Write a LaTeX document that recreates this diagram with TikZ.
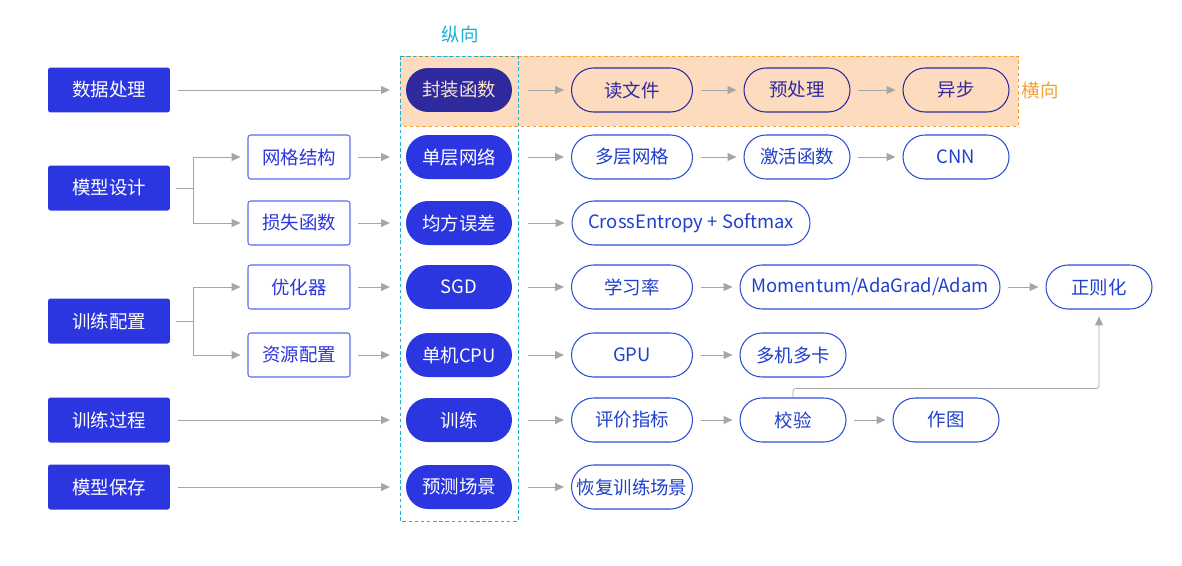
\documentclass[tikz,border=0pt]{standalone}
\usepackage{fontspec}
\setmainfont{Noto Sans CJK SC}
\usetikzlibrary{arrows.meta}
\definecolor{mainblue}{HTML}{2B35E0}
\definecolor{darkpill}{HTML}{2E2A9E}
\definecolor{pilltext}{HTML}{F7E3CC}
\definecolor{lineblue}{HTML}{2B4FD6}
\definecolor{textblue}{HTML}{1F3FCC}
\definecolor{subblue}{HTML}{5C6BF0}
\definecolor{linkgray}{HTML}{A6A6A6}
\definecolor{peach}{HTML}{FDDBBE}
\definecolor{orangeline}{HTML}{F5A033}
\definecolor{cyanline}{HTML}{1BB0D8}
\tikzset{
  every node/.style={font=\fontsize{10.5}{12}\selectfont, inner sep=0pt},
  stage/.style={fill=mainblue, text=white, rounded corners=1.5pt, minimum width=2.44cm, minimum height=0.9cm},
  part/.style={draw=subblue, line width=0.6pt, fill=white, text=mainblue, rounded corners=1.5pt, minimum width=2.04cm, minimum height=0.88cm},
  basepill/.style={fill=mainblue, text=white, rounded corners=12.5pt, minimum width=2.12cm, minimum height=0.88cm},
  pill/.style={draw=lineblue, line width=0.6pt, fill=white, text=textblue, rounded corners=12.5pt, minimum width=2.12cm, minimum height=0.88cm},
  link/.style={draw=linkgray, -{Triangle[length=5pt,width=4.5pt]}, shorten <=4.5pt, shorten >=4pt},
}
\begin{document}
\begin{tikzpicture}[x=0.02cm, y=-0.02cm]
  \useasboundingbox (0,0) rectangle (1182,565);
  % Areas
  \fill[peach] (400,56) rectangle (1018,126);
  \draw[orangeline, dashed, dash pattern=on 2pt off 1.5pt] (400,56) rectangle (1018,126);
  \draw[cyanline, dash pattern=on 2pt off 1.5pt] (400,56) rectangle (518,521);
  \node[text=cyanline] (vert) at (460,34) {纵向};
  \node[text=orangeline] (horiz) at (1040,90) {横向};
  % Stages
  \node[stage] (data)  at (109,90)  {数据处理};
  \node[stage] (model) at (109,188) {模型设计};
  \node[stage] (conf)  at (109,321) {训练配置};
  \node[stage] (proc)  at (109,420) {训练过程};
  \node[stage] (save)  at (109,487) {模型保存};
  % Parts
  \node[part] (net)  at (299,157) {网格结构};
  \node[part] (loss) at (299,223) {损失函数};
  \node[part] (opt)  at (299,287) {优化器};
  \node[part] (res)  at (299,355) {资源配置};
  % Basic versions
  \node[basepill, fill=darkpill, text=pilltext] (wrap) at (459,90) {封装函数};
  \node[basepill] (single)  at (459,157) {单层网络};
  \node[basepill] (mse)     at (459,223) {均方误差};
  \node[basepill] (sgd)     at (459,287) {SGD};
  \node[basepill] (cpu)     at (459,355) {单机CPU};
  \node[basepill] (fit)     at (459,420) {训练};
  \node[basepill] (predict) at (459,487) {预测场景};
  % Extensions
  \node[pill, draw=darkpill, text=darkpill, fill=none, minimum width=2.42cm] (read) at (632,90) {读文件};
  \node[pill, draw=darkpill, text=darkpill, fill=none] (prep) at (797,90) {预处理};
  \node[pill, draw=darkpill, text=darkpill, fill=none] (async) at (956,90) {异步};
  \node[pill, minimum width=2.42cm] (multi) at (632,157) {多层网格};
  \node[pill] (act) at (797,157) {激活函数};
  \node[pill] (cnn) at (956,157) {CNN};
  \node[pill, minimum width=4.76cm] (ce) at (691,223) {CrossEntropy + Softmax};
  \node[pill, minimum width=2.42cm] (lr) at (632,287) {学习率};
  \node[pill, minimum width=5.2cm] (mom) at (870,287) {Momentum/AdaGrad/Adam};
  \node[pill] (reg) at (1099,287) {正则化};
  \node[pill, minimum width=2.42cm] (gpu) at (632,355) {GPU};
  \node[pill] (cards) at (793,355) {多机多卡};
  \node[pill, minimum width=2.42cm] (eval) at (632,420) {评价指标};
  \node[pill] (check) at (793,420) {校验};
  \node[pill] (plot) at (946,420) {作图};
  \node[pill, minimum width=2.42cm] (resume) at (632,487) {恢复训练场景};
  % Stage links
  \draw[link, shorten >=9pt] (data) -- (wrap);
  \draw[link, shorten >=9pt] (proc) -- (fit);
  \draw[link, shorten >=9pt] (save) -- (predict);
  \coordinate (mfork) at (193,188);
  \coordinate (cfork) at (193,321);
  \draw[linkgray, shorten <=3pt] (model) -- (mfork);
  \draw[link, shorten <=0pt] (mfork) |- (net);
  \draw[link, shorten <=0pt] (mfork) |- (loss);
  \draw[linkgray, shorten <=3pt] (conf) -- (cfork);
  \draw[link, shorten <=0pt] (cfork) |- (opt);
  \draw[link, shorten <=0pt] (cfork) |- (res);
  \draw[link, shorten >=9pt] (net) -- (single);
  \draw[link, shorten >=9pt] (loss) -- (mse);
  \draw[link, shorten >=9pt] (opt) -- (sgd);
  \draw[link, shorten >=9pt] (res) -- (cpu);
  % Row links
  \draw[link, shorten <=9pt] (wrap) -- (read);
  \draw[link] (read) -- (prep);
  \draw[link] (prep) -- (async);
  \draw[link, shorten <=9pt] (single) -- (multi);
  \draw[link] (multi) -- (act);
  \draw[link] (act) -- (cnn);
  \draw[link, shorten <=9pt] (mse) -- (ce);
  \draw[link, shorten <=9pt] (sgd) -- (lr);
  \draw[link] (lr) -- (mom);
  \draw[link] (mom) -- (reg);
  \draw[link, shorten <=9pt] (cpu) -- (gpu);
  \draw[link] (gpu) -- (cards);
  \draw[link, shorten <=9pt] (fit) -- (eval);
  \draw[link] (eval) -- (check);
  \draw[link] (check) -- (plot);
  \draw[link, shorten <=9pt] (predict) -- (resume);
  % Check to regularization
  \draw[link, shorten <=0pt, rounded corners=1.5pt] (check.north) -- ++(0,-9) -| (reg.south);
\end{tikzpicture}
\end{document}
